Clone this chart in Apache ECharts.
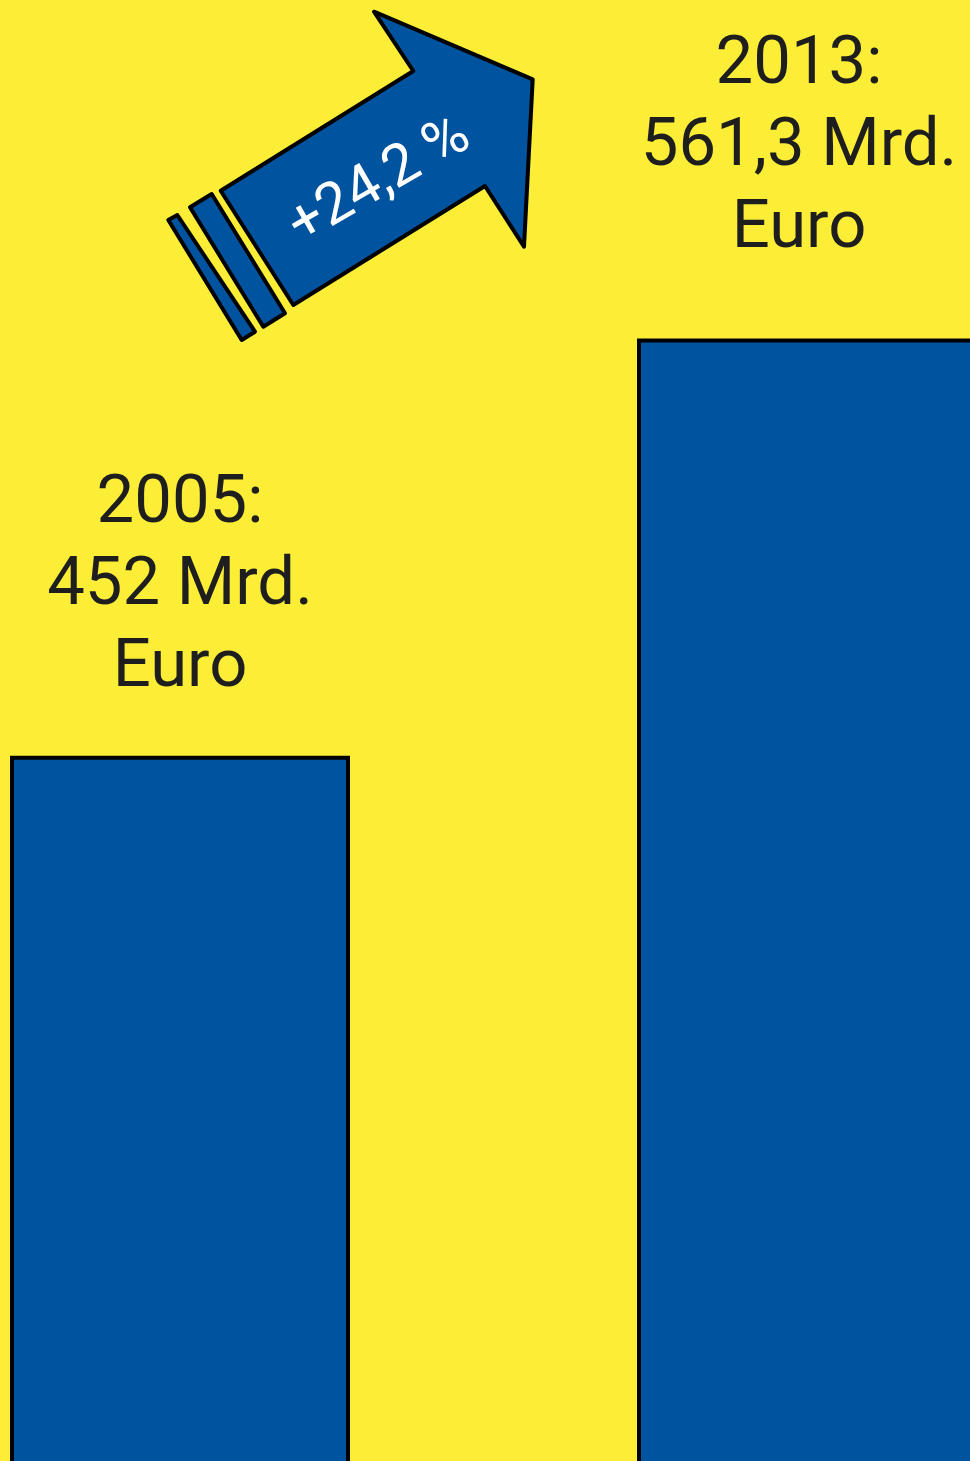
<!DOCTYPE html>
<html>
<head>
<meta charset="utf-8">
<script src="https://cdn.jsdelivr.net/npm/echarts@6/dist/echarts.min.js"></script>
<style>
html, body { margin: 0; padding: 0; background: #fcee36; }
#main { width: 970px; height: 1461px; }
</style>
</head>
<body>
<div id="main"></div>
<script>
var years = ['2005', '2013'];
var values = [452, 561.3];
var unit = 'Mrd.';
var currency = 'Euro';

var yellow = '#fcee36';
var blue = '#00539f';

function fmt(v) {
	return String(v).replace('.', ',');
}

var growth = ((values[1] / values[0] - 1) * 100).toFixed(1).replace('.', ',');

var labelTweaks = [
	{ distance: 46, offset: [0, 0] },
	{ distance: 67, offset: [-8, 0] }
];

var barData = [];
for (var i = 0; i < values.length; i++) {
	barData.push({
		value: values[i],
		label: labelTweaks[i]
	});
}

var myChart = echarts.init(document.getElementById('main'));
var option = {
	backgroundColor: yellow,
	animation: false,
	grid: {
		left: -133.5,
		top: 0,
		width: 1254,
		height: 2481,
		outerBoundsMode: 'none',
		containLabel: false
	},
	xAxis: {
		type: 'category',
		data: years,
		show: false
	},
	yAxis: {
		type: 'value',
		min: 0,
		max: 650,
		show: false,
		splitLine: { show: false }
	},
	graphic: [
		{
			type: 'polygon',
			shape: { points: [[168.3, 220], [177.3, 215], [255, 331.7], [241.7, 340]] },
			style: { fill: blue, stroke: '#000', lineWidth: 4, lineJoin: 'round' }
		},
		{
			type: 'polygon',
			shape: { points: [[190, 207.3], [211.7, 194], [285, 313.3], [263.3, 326.7]] },
			style: { fill: blue, stroke: '#000', lineWidth: 4, lineJoin: 'round' }
		},
		{
			type: 'polygon',
			shape: {
				points: [[220.7, 190.7], [413.3, 71], [374, 11.7], [532.7, 79.3],
					[524, 246.7], [485, 186], [293.3, 305]]
			},
			style: { fill: blue, stroke: '#000', lineWidth: 4, lineJoin: 'round' }
		},
		{
			type: 'text',
			x: 380,
			y: 182,
			rotation: 30 * Math.PI / 180,
			style: {
				text: '+' + growth + ' %',
				fill: '#fff',
				font: '58px Roboto',
				align: 'center',
				verticalAlign: 'middle'
			}
		}
	],
	series: [{
		type: 'bar',
		data: barData,
		barWidth: 340,
		itemStyle: {
			color: blue,
			borderColor: '#000',
			borderWidth: 4
		},
		label: {
			show: true,
			position: 'top',
			color: '#1e1e1e',
			fontFamily: 'Roboto',
			fontSize: 67,
			lineHeight: 82,
			align: 'center',
			formatter: function(p) {
				return p.name + ':\n' + fmt(p.value) + ' ' + unit + '\n' + currency;
			}
		}
	}]
};
myChart.setOption(option);
</script>
</body>
</html>
